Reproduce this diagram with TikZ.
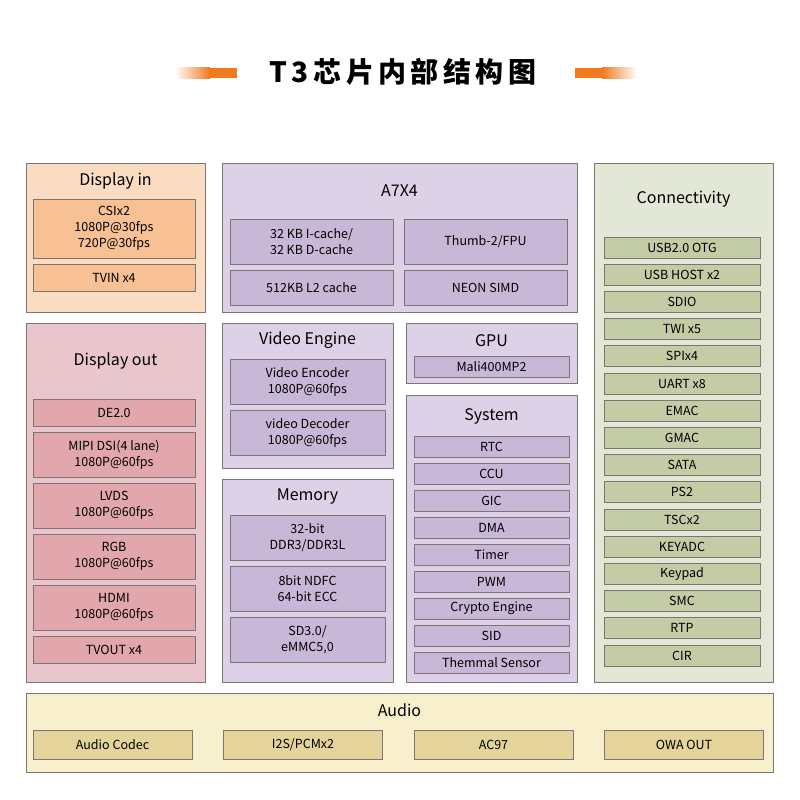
\documentclass[tikz,border=0pt]{standalone}
\usepackage{fontspec}
\setmainfont{Noto Sans CJK SC}
\newfontfamily\titlefont[LetterSpace=16]{Noto Sans CJK SC}
\usetikzlibrary{calc, positioning}

\definecolor{linegray}{HTML}{7E7474}
\definecolor{barorange}{HTML}{F07A1E}
\definecolor{dinbg}{HTML}{FADCC2}
\definecolor{dinpart}{HTML}{F7C194}
\definecolor{doutbg}{HTML}{E8C6CB}
\definecolor{doutpart}{HTML}{E2A7AD}
\definecolor{purbg}{HTML}{DDD1E7}
\definecolor{purpart}{HTML}{C9B7D7}
\definecolor{connbg}{HTML}{E3E8D6}
\definecolor{connpart}{HTML}{C4CCA6}
\definecolor{audbg}{HTML}{F8EFCC}
\definecolor{audpart}{HTML}{E4D39A}

\tikzset{
panel/.style={
draw=linegray,
line width=0.9pt,
fill=#1,
inner sep=0pt
},
part/.style={
draw=linegray,
line width=0.9pt,
fill=#1,
inner sep=0pt,
outer sep=0pt,
align=center,
font=\fontsize{12.5}{16}\selectfont
},
head/.style={
inner sep=0pt,
font=\fontsize{16}{19}\selectfont
}
}

\begin{document}
\begin{tikzpicture}[x=1pt, y=-1pt]
        \useasboundingbox (0,0) rectangle (800,800);

        % title and the two orange bars
        \node(title)[inner sep=0pt, font=\titlefont\bfseries\fontsize{28}{32}\selectfont] at (403,72)
        {T3芯片内部结构图};
        \shade[left color=white, right color=barorange] (175,68) rectangle (210,78);
        \fill[barorange] (209,68) rectangle (237,78);
        \fill[barorange] (575,68) rectangle (603,78);
        \shade[left color=barorange, right color=white] (602,68) rectangle (637,78);

        % Display in
        \node(din)[panel=dinbg, minimum width=179pt, minimum height=149pt] at (115.5,237.5) {};
        \node(dinhead)[head] at ($(din.north)+(0,18)$) {Display in};
        \node(csi)[part=dinpart, minimum width=162pt, minimum height=59pt] at (114,228.5)
        {CSIx2\\1080P@30fps\\720P@30fps};
        \node(tvin)[part=dinpart, minimum width=162pt, minimum height=27pt, below=6pt of csi]
        {TVIN x4};

        % A7X4
        \node(cpu)[panel=purbg, minimum width=355pt, minimum height=149pt] at (399.5,237.5) {};
        \node(cpuhead)[head] at ($(cpu.north)+(0,28)$) {A7X4};
        \node(icache)[part=purpart, minimum width=163pt, minimum height=45pt] at (311.5,241.5)
        {32 KB I-cache/\\32 KB D-cache};
        \node(thumb)[part=purpart, minimum width=163pt, minimum height=45pt, right=11pt of icache]
        {Thumb-2/FPU};
        \node(ltwo)[part=purpart, minimum width=163pt, minimum height=35pt, below=6pt of icache]
        {512KB L2 cache};
        \node(neon)[part=purpart, minimum width=163pt, minimum height=35pt, below=6pt of thumb]
        {NEON SIMD};

        % Display out
        \node(dout)[panel=doutbg, minimum width=179pt, minimum height=359pt] at (115.5,502.5) {};
        \node(douthead)[head] at ($(dout.north)+(0,38)$) {Display out};
        \node(de)[part=doutpart, minimum width=162pt, minimum height=27pt] at (114,412.5)
        {DE2.0};
        \node(mipi)[part=doutpart, minimum width=162pt, minimum height=45pt, below=6pt of de]
        {MIPI DSI(4 lane)\\1080P@60fps};
        \node(lvds)[part=doutpart, minimum width=162pt, minimum height=45pt, below=6pt of mipi]
        {LVDS\\1080P@60fps};
        \node(rgb)[part=doutpart, minimum width=162pt, minimum height=45pt, below=6pt of lvds]
        {RGB\\1080P@60fps};
        \node(hdmi)[part=doutpart, minimum width=162pt, minimum height=45pt, below=6pt of rgb]
        {HDMI\\1080P@60fps};
        \node(tvout)[part=doutpart, minimum width=162pt, minimum height=27pt, below=6pt of hdmi]
        {TVOUT x4};

        % Video Engine
        \node(vid)[panel=purbg, minimum width=171pt, minimum height=145pt] at (307.5,395.5) {};
        \node(vidhead)[head] at ($(vid.north)+(0,18)$) {Video Engine};
        \node(venc)[part=purpart, minimum width=155pt, minimum height=45pt] at (307.5,381.5)
        {Video Encoder\\1080P@60fps};
        \node(vdec)[part=purpart, minimum width=155pt, minimum height=45pt, below=6pt of venc]
        {video Decoder\\1080P@60fps};

        % Memory
        \node(mem)[panel=purbg, minimum width=171pt, minimum height=203pt] at (307.5,580.5) {};
        \node(memhead)[head] at ($(mem.north)+(0,18)$) {Memory};
        \node(ddr)[part=purpart, minimum width=155pt, minimum height=45pt] at (307.5,537.5)
        {32-bit\\DDR3/DDR3L};
        \node(ndfc)[part=purpart, minimum width=155pt, minimum height=45pt, below=6pt of ddr]
        {8bit NDFC\\64-bit ECC};
        \node(sd)[part=purpart, minimum width=155pt, minimum height=45pt, below=6pt of ndfc]
        {SD3.0/\\eMMC5,0};

        % GPU
        \node(gpu)[panel=purbg, minimum width=171pt, minimum height=60pt] at (491.5,353) {};
        \node(gpuhead)[head] at ($(gpu.north)+(0,18)$) {GPU};
        \node(mali)[part=purpart, minimum width=155pt, minimum height=21pt] at (491.5,366.5)
        {Mali400MP2};

        % System
        \node(sys)[panel=purbg, minimum width=171pt, minimum height=287pt] at (491.5,538.5) {};
        \node(syshead)[head] at ($(sys.north)+(0,22)$) {System};
        \node(rtc)[part=purpart, minimum width=155pt, minimum height=21pt] at (491.5,446.5)
        {RTC};
        \node(ccu)[part=purpart, minimum width=155pt, minimum height=21pt, below=6pt of rtc]
        {CCU};
        \node(gic)[part=purpart, minimum width=155pt, minimum height=21pt, below=6pt of ccu]
        {GIC};
        \node(dma)[part=purpart, minimum width=155pt, minimum height=21pt, below=6pt of gic]
        {DMA};
        \node(timer)[part=purpart, minimum width=155pt, minimum height=21pt, below=6pt of dma]
        {Timer};
        \node(pwm)[part=purpart, minimum width=155pt, minimum height=21pt, below=6pt of timer]
        {PWM};
        \node(crypto)[part=purpart, minimum width=155pt, minimum height=21pt, below=6pt of pwm]
        {Crypto Engine};
        \node(sid)[part=purpart, minimum width=155pt, minimum height=21pt, below=6pt of crypto]
        {SID};
        \node(thermal)[part=purpart, minimum width=155pt, minimum height=21pt, below=6pt of sid]
        {Themmal Sensor};

        % Connectivity
        \node(conn)[panel=connbg, minimum width=179pt, minimum height=519pt] at (683.5,422.5) {};
        \node(connhead)[head] at ($(conn.north)+(0,37)$) {Connectivity};
        \node(otg)[part=connpart, minimum width=156pt, minimum height=21pt] at (682,247.5)
        {USB2.0 OTG};
        \node(host)[part=connpart, minimum width=156pt, minimum height=21pt, below=6.2pt of otg]
        {USB HOST x2};
        \node(sdio)[part=connpart, minimum width=156pt, minimum height=21pt, below=6.2pt of host]
        {SDIO};
        \node(twi)[part=connpart, minimum width=156pt, minimum height=21pt, below=6.2pt of sdio]
        {TWI x5};
        \node(spi)[part=connpart, minimum width=156pt, minimum height=21pt, below=6.2pt of twi]
        {SPIx4};
        \node(uart)[part=connpart, minimum width=156pt, minimum height=21pt, below=6.2pt of spi]
        {UART x8};
        \node(emac)[part=connpart, minimum width=156pt, minimum height=21pt, below=6.2pt of uart]
        {EMAC};
        \node(gmac)[part=connpart, minimum width=156pt, minimum height=21pt, below=6.2pt of emac]
        {GMAC};
        \node(sata)[part=connpart, minimum width=156pt, minimum height=21pt, below=6.2pt of gmac]
        {SATA};
        \node(pstwo)[part=connpart, minimum width=156pt, minimum height=21pt, below=6.2pt of sata]
        {PS2};
        \node(tsc)[part=connpart, minimum width=156pt, minimum height=21pt, below=6.2pt of pstwo]
        {TSCx2};
        \node(keyadc)[part=connpart, minimum width=156pt, minimum height=21pt, below=6.2pt of tsc]
        {KEYADC};
        \node(keypad)[part=connpart, minimum width=156pt, minimum height=21pt, below=6.2pt of keyadc]
        {Keypad};
        \node(smc)[part=connpart, minimum width=156pt, minimum height=21pt, below=6.2pt of keypad]
        {SMC};
        \node(rtp)[part=connpart, minimum width=156pt, minimum height=21pt, below=6.2pt of smc]
        {RTP};
        \node(cir)[part=connpart, minimum width=156pt, minimum height=21pt, below=6.2pt of rtp]
        {CIR};

        % Audio
        \node(aud)[panel=audbg, minimum width=747pt, minimum height=79pt] at (399.5,732.5) {};
        \node(audhead)[head] at ($(aud.north)+(0,18)$) {Audio};
        \node(codec)[part=audpart, minimum width=159pt, minimum height=29pt] at (112.5,744.5)
        {Audio Codec};
        \node(itwos)[part=audpart, minimum width=159pt, minimum height=29pt, right=31.5pt of codec]
        {I2S/PCMx2};
        \node(acnn)[part=audpart, minimum width=159pt, minimum height=29pt, right=31.5pt of itwos]
        {AC97};
        \node(owa)[part=audpart, minimum width=159pt, minimum height=29pt, right=31.5pt of acnn]
        {OWA OUT};

\end{tikzpicture}
\end{document}
